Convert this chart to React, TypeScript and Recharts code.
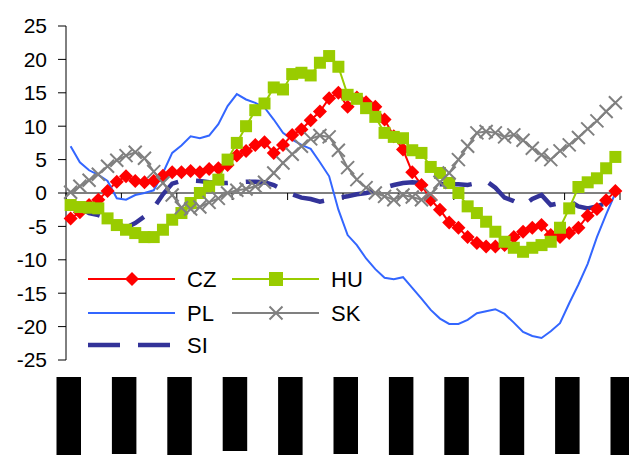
import { LineChart, Line, XAxis, YAxis, ReferenceLine, Legend } from 'recharts';

// monthly-ish points, 60 per series (axis labels are blacked out in the source)
const cz = [
  -3.8, -2.9, -1.8, -1.0, 0.3, 1.7, 2.5, 1.8, 1.6, 1.8,
  2.6, 3.1, 3.1, 3.3, 3.1, 3.6, 3.7, 4.2, 5.6, 6.3,
  7.2, 7.6, 6.0, 7.2, 8.7, 9.5, 10.9, 12.2, 14.2, 15.0,
  12.9, 14.3, 13.6, 12.9, 11.0, 8.5, 6.5, 3.1, 1.2, -1.0,
  -2.5, -4.4, -5.2, -6.6, -7.5, -8.0, -8.0, -7.8, -6.6, -5.8,
  -5.2, -4.8, -6.3, -6.6, -6.0, -5.2, -3.4, -2.4, -1.1, 0.3,
];
const hu = [
  -1.8, -2.1, -2.2, -2.3, -3.8, -4.8, -5.5, -6.0, -6.6, -6.6,
  -5.5, -4.0, -3.0, -1.5, 0.0, 1.0, 2.0, 5.0, 7.5, 10.0,
  12.4, 13.4, 15.8, 15.5, 17.8, 18.0, 17.6, 19.5, 20.5, 18.9,
  14.7, 14.1, 12.7, 11.4, 9.0, 8.4, 8.2, 6.4, 6.0, 3.9,
  3.0, 1.5, 0.0, -2.0, -3.0, -4.3, -5.8, -7.3, -8.2, -8.8,
  -8.2, -7.8, -7.3, -5.2, -2.3, 0.9, 1.6, 2.2, 3.7, 5.4,
];
const pl = [
  7.0, 4.6, 3.4, 2.7, 1.8, -0.8, -1.0, -0.3, 0.0, 0.4,
  3.0, 6.0, 7.1, 8.5, 8.2, 8.6, 10.3, 13.0, 14.8, 14.0,
  13.5, 12.8, 11.0, 9.0, 8.0, 7.2, 6.6, 4.6, 2.5, -2.5,
  -6.3, -7.8, -9.8, -11.4, -12.7, -12.9, -12.6, -14.2, -15.8, -17.5,
  -18.8, -19.6, -19.6, -19.0, -18.0, -17.7, -17.4, -18.1, -19.4, -20.8,
  -21.4, -21.7, -20.7, -19.5, -16.5, -13.7, -10.6, -6.6, -3.2, 0.0,
];
const sk = [
  0.1, 1.0, 1.9, 2.8, 4.0, 4.9, 5.6, 6.1, 5.2, 3.2,
  1.5, -0.3, -2.2, -2.4, -2.1, -1.4, -0.8, 0.0, 0.4, 0.6,
  1.0, 1.6, 3.0, 4.5, 5.8, 7.0, 8.1, 8.6, 8.4, 6.4,
  3.8, 2.0, 0.8, 0.0, -0.5, -1.0, -0.3, -0.6, -1.0, -0.2,
  1.6, 3.0, 5.0, 7.0, 9.0, 9.2, 9.0, 8.4, 8.7, 7.9,
  6.7, 5.7, 5.0, 6.3, 7.2, 8.3, 9.6, 10.8, 12.2, 13.5,
];
const si = [
  -1.5, -2.2, -3.0, -3.3, -3.8, -4.5, -5.2, -4.5, -3.5, -2.2,
  -0.2, 1.4, 1.8, 1.9, 1.8, 1.6, 1.5, 1.5, 1.6, 1.7,
  1.7, 1.6, 1.2, 0.5, -0.2, -0.7, -0.9, -1.3, -1.0, -0.7,
  -0.5, -0.2, 0.0, 0.3, 0.8, 1.2, 1.5, 1.6, 1.5, 1.4,
  1.3, 1.3, 1.3, 1.2, 1.5, 1.8, 0.8, -0.7, -1.2, -1.9,
  -0.9, -0.3, -1.8, -1.5, -1.2, -2.0, -2.3, -2.0, -1.5, -0.5,
];

const xTicks = [-0.5, 5.5, 11.5, 17.5, 23.5, 29.5, 35.5, 41.5, 47.5, 53.5, 59.5];
const yTicks = [-25, -20, -15, -10, -5, 0, 5, 10, 15, 20, 25];
// heights of the blacked-out date labels
const labelBoxHeights = [78, 77, 78, 74, 78, 77, 78, 78, 78, 77, 78];

const data = cz.map((v, i) => ({ idx: i, CZ: v, HU: hu[i], PL: pl[i], SK: sk[i], SI: si[i] }));

const FONT = '"Liberation Sans", Arial, sans-serif';

const series = [
  { key: 'CZ', color: '#FF0000', width: 2, marker: 'diamond', dash: undefined },
  { key: 'HU', color: '#99CC00', width: 2, marker: 'square', dash: undefined },
  { key: 'PL', color: '#3366FF', width: 2, marker: 'none', dash: undefined },
  { key: 'SK', color: '#808080', width: 2, marker: 'cross', dash: undefined },
  { key: 'SI', color: '#333399', width: 4.5, marker: 'none', dash: '32 18' },
];

function Marker({ kind, cx, cy, color, s }: any) {
  if (cx == null || cy == null) return null;
  if (kind === 'diamond') {
    return <polygon points={`${cx},${cy - s} ${cx + s},${cy} ${cx},${cy + s} ${cx - s},${cy}`} fill={color} />;
  }
  if (kind === 'square') {
    return <rect x={cx - s} y={cy - s} width={s * 2} height={s * 2} fill={color} />;
  }
  if (kind === 'cross') {
    return (
      <path
        d={`M${cx - s},${cy - s}L${cx + s},${cy + s}M${cx - s},${cy + s}L${cx + s},${cy - s}`}
        stroke={color}
        strokeWidth={2}
        fill="none"
      />
    );
  }
  return null;
}

const markerSize: Record<string, number> = { diamond: 7, square: 6, cross: 6.5 };

const ZeroAxis = (props: any) => {
  const { x1, x2, y1 } = props;
  const lo = xTicks[0];
  const span = xTicks[xTicks.length - 1] - lo;
  return (
    <g>
      <line x1={x1} x2={x2} y1={y1} y2={y1} stroke="#000" strokeWidth={1} />
      {xTicks.map((t, i) => {
        const x = x1 + ((t - lo) / span) * (x2 - x1);
        return <line key={i} x1={x} x2={x} y1={y1} y2={y1 + 7} stroke="#000" strokeWidth={1} />;
      })}
    </g>
  );
};

const LabelBox = ({ x, y, index }: any) => (
  <rect x={x - 9.5} y={y + 17} width={24.5} height={labelBoxHeights[index] ?? 78} fill="#000" />
);

const legendSlots = [
  { key: 'CZ', col: 0, row: 0 },
  { key: 'HU', col: 1, row: 0 },
  { key: 'PL', col: 0, row: 1 },
  { key: 'SK', col: 1, row: 1 },
  { key: 'SI', col: 0, row: 2 },
];

const renderLegend = () => (
  <svg width={300} height={100} style={{ display: 'block' }}>
    {legendSlots.map((slot) => {
      const s = series.find((d) => d.key === slot.key)!;
      const x0 = 8 + slot.col * 144;
      const y = [17, 51, 83][slot.row];
      return (
        <g key={slot.key}>
          <line
            x1={x0}
            x2={x0 + 87}
            y1={y}
            y2={y}
            stroke={s.color}
            strokeWidth={s.width}
            strokeDasharray={s.dash}
          />
          <Marker kind={s.marker} cx={x0 + 44} cy={y} color={s.color} s={s.marker === 'cross' ? 6.5 : 7} />
          <text x={x0 + 99} y={y} dominantBaseline="central" fontSize={22} fontFamily={FONT} fill="#000">
            {s.key}
          </text>
        </g>
      );
    })}
  </svg>
);

export default function App() {
  return (
    <div style={{ position: 'absolute', left: 0, top: 0 }}>
      <LineChart width={629} height={458} data={data} margin={{ top: 26, right: 9, bottom: 0, left: 0 }}>
        <XAxis
          dataKey="idx"
          type="number"
          domain={[xTicks[0], xTicks[xTicks.length - 1]]}
          ticks={xTicks}
          interval={0}
          height={98}
          axisLine={false}
          tickLine={false}
          tickSize={0}
          tickMargin={0}
          tick={<LabelBox />}
        />
        <YAxis
          domain={[-25, 25]}
          ticks={yTicks}
          interval={0}
          width={66}
          axisLine={{ stroke: '#000' }}
          tickLine={{ stroke: '#000' }}
          tickSize={8}
          tickMargin={11}
          tick={{ fill: '#000', fontSize: 21, fontFamily: FONT }}
        />
        <ReferenceLine y={0} shape={ZeroAxis} />
        {series.map((s) => (
          <Line
            key={s.key}
            dataKey={s.key}
            type="linear"
            stroke={s.color}
            strokeWidth={s.width}
            strokeDasharray={s.dash}
            dot={
              s.marker === 'none'
                ? false
                : (p: any) => (
                    <Marker key={p.index} kind={s.marker} cx={p.cx} cy={p.cy} color={s.color} s={markerSize[s.marker]} />
                  )
            }
            activeDot={false}
            isAnimationActive={false}
          />
        ))}
        <Legend
          layout="horizontal"
          verticalAlign="middle"
          align="center"
          wrapperStyle={{ left: 80, top: 262, width: 300, height: 100 }}
          content={renderLegend}
        />
      </LineChart>
    </div>
  );
}
